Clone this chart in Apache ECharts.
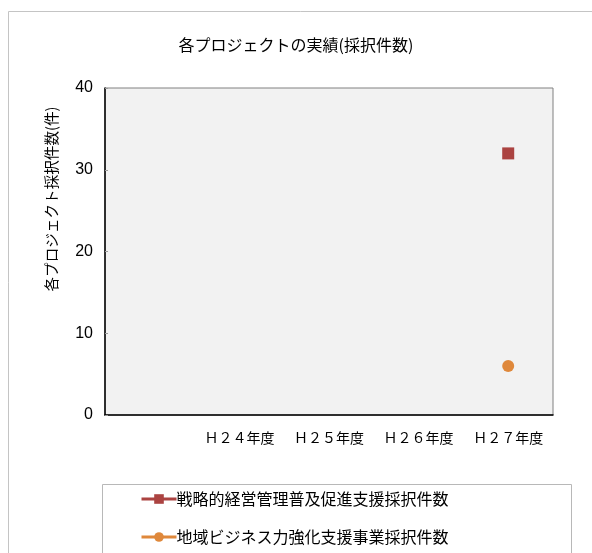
<!DOCTYPE html>
<html>
<head>
<meta charset="utf-8">
<script src="https://cdn.jsdelivr.net/npm/echarts@6/dist/echarts.min.js"></script>
<style>
  html, body { margin: 0; padding: 0; background: #fff; }
  #chart { width: 592px; height: 553px; }
</style>
</head>
<body>
<div id="chart"></div>
<script>
// Fiscal-year categories (the first slot is left blank)
const categories = ['', 'Ｈ２４年度', 'Ｈ２５年度', 'Ｈ２６年度', 'Ｈ２７年度'];
// Adoption counts per project
const strategicMgmt = [null, null, null, null, 32];
const regionalBiz = [null, null, null, null, 6];
const yTicks = { min: 0, max: 40, interval: 10 };

const seriesNames = ['戦略的経営管理普及促進支援採択件数', '地域ビジネス力強化支援事業採択件数'];
const yAxisTitle = '各プロジェクト採択件数(件)';
const jpFont = '"Noto Sans CJK JP", "Noto Sans", sans-serif';

const chart = echarts.init(document.getElementById('chart'), null, { renderer: 'canvas' });
chart.setOption({
  animation: false,
  backgroundColor: '#ffffff',
  title: {
    text: '各プロジェクトの実績(採択件数)',
    left: 'center',
    top: 32,
    textStyle: { fontFamily: jpFont, fontSize: 16, fontWeight: 'normal', color: '#000' }
  },
  graphic: [
    { type: 'rect', left: 6, top: 9, shape: { width: 600, height: 560 },
      style: { fill: 'none', stroke: '#c4c4c4', lineWidth: 1 }, z: -1 },
    { type: 'rect', left: 100, top: 482, shape: { width: 469, height: 100 },
      style: { fill: 'none', stroke: '#b8b8b8', lineWidth: 1 }, z: -1 },
    { type: 'text', x: 51, y: 199, rotation: Math.PI / 2,
      style: { text: yAxisTitle, fontFamily: jpFont, fontSize: 14.6, fill: '#000',
        align: 'center', verticalAlign: 'middle' } }
  ],
  grid: { left: 105, right: 39, top: 88, bottom: 138, show: true,
    backgroundColor: '#f2f2f2', borderColor: '#808080', borderWidth: 1 },
  legend: {
    orient: 'vertical',
    left: 135,
    top: 486,
    itemGap: 22,
    itemWidth: 35,
    itemHeight: 12,
    data: seriesNames,
    lineStyle: { width: 3 },
    textStyle: { fontFamily: jpFont, fontSize: 16, color: '#000', padding: [0, 0, 0, -5] }
  },
  xAxis: {
    type: 'category',
    data: categories,
    boundaryGap: true,
    axisLine: { lineStyle: { color: '#000', width: 1.5 } },
    axisTick: { inside: true, length: 4, lineStyle: { color: '#999' } },
    axisLabel: { interval: 0, fontFamily: jpFont, fontSize: 14, color: '#000', margin: 16 },
    splitLine: { show: false }
  },
  yAxis: {
    type: 'value',
    min: yTicks.min, max: yTicks.max, interval: yTicks.interval,
    axisLine: { show: true, lineStyle: { color: '#000', width: 1.5 } },
    axisTick: { show: true, inside: true, length: 3, lineStyle: { color: '#999' } },
    axisLabel: { fontFamily: '"Liberation Sans", Arial, sans-serif', fontSize: 16, color: '#000', margin: 12 },
    splitLine: { show: false }
  },
  series: [
    {
      name: seriesNames[0], type: 'line', data: strategicMgmt,
      symbol: 'rect', symbolSize: 12,
      itemStyle: { color: '#ab4341' },
      lineStyle: { color: '#ab4341', width: 3 }
    },
    {
      name: seriesNames[1], type: 'line', data: regionalBiz,
      symbol: 'circle', symbolSize: 12,
      itemStyle: { color: '#df883b' },
      lineStyle: { color: '#df883b', width: 3 }
    }
  ]
});
</script>
</body>
</html>
